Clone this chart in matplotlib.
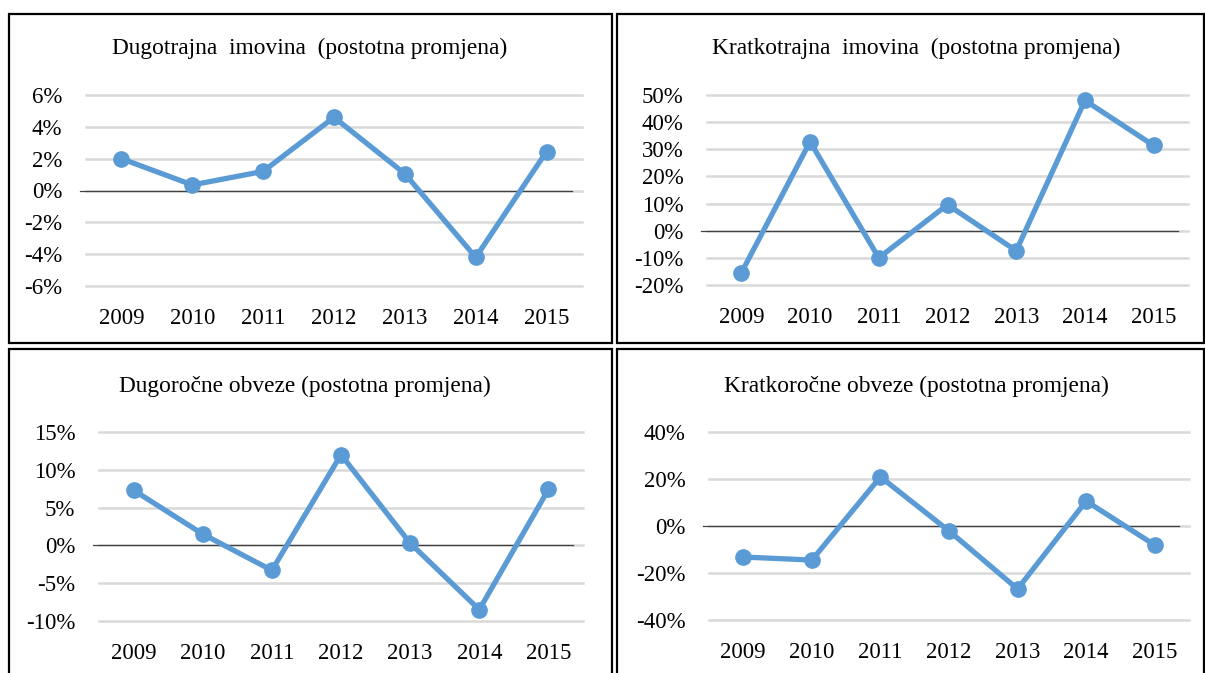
import matplotlib.pyplot as plt
from matplotlib.patches import Rectangle
from matplotlib.ticker import FuncFormatter

years = ['2009', '2010', '2011', '2012', '2013', '2014', '2015']

dugotrajna = [2.0, 0.35, 1.2, 4.6, 1.05, -4.2, 2.45]
kratkotrajna = [-15.5, 32.8, -10.0, 9.6, -7.4, 48.0, 31.4]
dugorocne = [7.3, 1.5, -3.3, 12.0, 0.3, -8.5, 7.4]
kratkorocne = [-13.2, -14.5, 20.9, -2.1, -26.8, 10.6, -8.1]

titles = [
    'Dugotrajna  imovina  (postotna promjena)',
    'Kratkotrajna  imovina  (postotna promjena)',
    'Dugoročne obveze (postotna promjena)',
    'Kratkoročne obveze (postotna promjena)',
]
yticks = [
    [-6, -4, -2, 0, 2, 4, 6],
    [-20, -10, 0, 10, 20, 30, 40, 50],
    [-10, -5, 0, 5, 10, 15],
    [-40, -20, 0, 20, 40],
]
series = [dugotrajna, kratkotrajna, dugorocne, kratkorocne]

W, H = 1205, 673
plt.rcParams['font.family'] = ['Liberation Serif', 'DejaVu Serif']

fig = plt.figure(figsize=(W / 100, H / 100), dpi=100)

# panel boxes (pixel coords: left, top, right, bottom)
boxes = [(9, 14, 612, 343), (617, 14, 1204, 343),
         (9, 349, 612, 700), (617, 349, 1204, 700)]
for l, t, r, b in boxes:
    fig.patches.append(Rectangle((l / W, 1 - b / H), (r - l) / W, (b - t) / H,
                                 transform=fig.transFigure, fill=False,
                                 edgecolor='black', linewidth=1.6))

# axes areas in pixels: left, right, top value y, bottom value y
areas = [(86, 582, 95, 286), (707, 1188, 95, 285),
         (99, 583, 432, 621), (709, 1189, 432, 620)]
title_pos = [(310, 48), (916, 48), (305, 386), (916, 386)]


def pct(v, pos):
    return f'{v:.0f}%'


for i in range(4):
    l, r, t, b = areas[i]
    ax = fig.add_axes([l / W, 1 - b / H, (r - l) / W, (b - t) / H])
    ax.plot(range(7), series[i], color='#5B9BD5', linewidth=3.8,
            marker='o', markersize=11, solid_joinstyle='round', zorder=3,
            clip_on=False)
    ax.set_xlim(-0.5, 6.5)
    ax.set_ylim(yticks[i][0], yticks[i][-1])
    ax.set_yticks(yticks[i])
    ax.yaxis.set_major_formatter(FuncFormatter(pct))
    ax.set_xticks(range(7))
    ax.set_xticklabels(years)
    ax.grid(axis='y', color='#D9D9D9', linewidth=1.8)
    for g in ax.get_ygridlines():
        g.set_clip_on(False)
    ax.set_axisbelow(True)
    for s in ax.spines.values():
        s.set_visible(False)
    ax.axhline(0, xmin=-0.012, xmax=0.98, color='#404040', linewidth=0.9,
               zorder=2, clip_on=False)
    ax.tick_params(length=0, labelsize=16.5)
    ax.tick_params(axis='y', pad=17)
    ax.tick_params(axis='x', pad=16)
    tx, ty = title_pos[i]
    fig.text(tx / W, 1 - ty / H, titles[i], ha='center', va='center',
             fontsize=16.8)

fig.savefig('out.png', dpi=100)
